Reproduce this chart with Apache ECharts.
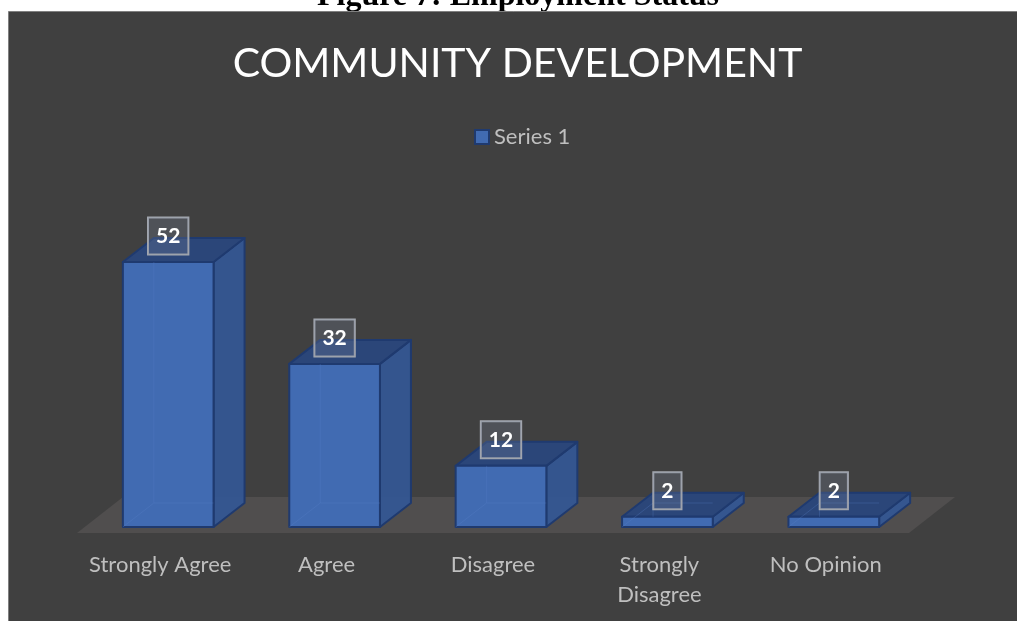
<!DOCTYPE html>
<html>
<head>
<meta charset="utf-8">
<style>html,body{margin:0;padding:0;background:#fff}#c{width:1017px;height:621px}</style>
<script src="https://cdn.jsdelivr.net/npm/echarts@6/dist/echarts.min.js"></script>
</head>
<body>
<div id="c"></div>
<script>
const categories = ['Strongly Agree', 'Agree', 'Disagree', 'Strongly\nDisagree', 'No Opinion'];
const values = [52, 32, 12, 2, 2];
const seriesName = 'Series 1';
const chartTitle = 'COMMUNITY DEVELOPMENT';
const caption = 'Figure 7: Employment Status';

const FONT = 'Lato, Carlito, sans-serif';
const DX = 31, DY = 24;         // bar depth projection
const FLOOR_DX = 46, FLOOR_DY = 36; // floor depth projection
const LIFT_X = 8, LIFT_Y = 6;   // bar footprint offset on floor
const BAR_RATIO = 0.545;

function poly(points, fill, stroke, lw) {
  return { type: 'polygon', shape: { points }, style: { fill, stroke, lineWidth: lw, lineJoin: 'round' } };
}
function edge(a, b) {
  return { type: 'line', shape: { x1: a[0], y1: a[1], x2: b[0], y2: b[1] }, style: { stroke: 'rgba(90,130,200,0.28)', lineWidth: 1 } };
}

function renderFloor(params) {
  if (params.dataIndex !== 0) return;
  const g = params.coordSys;
  const y0 = g.y + g.height;
  return poly([[g.x, y0], [g.x + g.width, y0], [g.x + g.width + FLOOR_DX, y0 - FLOOR_DY], [g.x + FLOOR_DX, y0 - FLOOR_DY]], '#504e4e');
}

function renderBar3D(params, api) {
  const cat = api.value(0), val = api.value(1);
  const base = api.coord([cat, 0]);
  const top = api.coord([cat, val]);
  const w = api.size([1, 0])[0] * BAR_RATIO;
  const l = base[0] + LIFT_X - w / 2, r = l + w;
  const b = base[1] - LIFT_Y, t = top[1] - LIFT_Y;
  const edgeC = '#1f3a6f';
  const children = [
    edge([l + DX, b - DY], [l + DX, t - DY]),
    poly([[r, t], [r + DX, t - DY], [r + DX, b - DY], [r, b]], 'rgba(52,86,146,0.96)', edgeC, 2),
    poly([[l, t], [r, t], [r + DX, t - DY], [l + DX, t - DY]], '#2b4679', edgeC, 2),
    poly([[l, t], [r, t], [r, b], [l, b]], '#416bb2', edgeC, 2),
    edge([l, b], [l + DX, b - DY]),
    edge([l + DX, b - DY], [r, b - DY]),
    edge([l + DX, t], [l + DX, b - DY]),
    {
      type: 'text', z2: 10,
      style: {
        text: String(val), x: l + w / 2, y: t - 26, align: 'center', verticalAlign: 'middle',
        fill: '#ffffff', font: 'bold 21px ' + FONT,
        backgroundColor: 'rgba(120,130,150,0.28)', borderColor: '#a4a8b0', borderWidth: 1,
        padding: [8, 8, 8, 8], boxShadowBlur: 14, boxShadowColor: 'rgba(0,0,0,0.35)', boxShadowOffsetX: 4
      }
    }
  ];
  return { type: 'group', children };
}

const chart = echarts.init(document.getElementById('c'), null, { renderer: 'canvas' });
chart.setOption({
  animation: false,
  backgroundColor: '#ffffff',
  title: {
    text: chartTitle, left: 512.5, top: 38.5, textAlign: 'center', z: 6,
    textStyle: { color: '#ffffff', fontFamily: FONT, fontWeight: 'normal', fontSize: 41 }
  },
  legend: {
    data: [{ name: seriesName, icon: 'rect' }],
    left: 469, top: 121, itemWidth: 14, itemHeight: 14, itemGap: 5, z: 6,
    textStyle: { color: '#bfbfbf', fontFamily: FONT, fontSize: 22 }
  },
  grid: { left: 77, width: 832, top: 227.2, height: 305.8, containLabel: false },
  xAxis: {
    type: 'category', data: categories, z: 5,
    axisLine: { show: false }, axisTick: { show: false },
    axisLabel: { color: '#bfbfbf', fontFamily: FONT, fontSize: 22, lineHeight: 30, margin: 17, interval: 0 }
  },
  yAxis: { type: 'value', min: 0, max: 60, show: false, splitLine: { show: false } },
  graphic: [
    { type: 'text', z: 0, style: { text: caption, x: 518, y: 13, align: 'center', verticalAlign: 'bottom', font: 'bold 32px "Liberation Serif", serif', fill: '#000' } },
    { type: 'rect', z: 1, shape: { x: 8.5, y: 11.5, width: 1020, height: 620 }, style: { fill: '#404040', stroke: '#808080', lineWidth: 1 } }
  ],
  series: [
    { type: 'custom', name: 'floor', z: 2, silent: true, renderItem: renderFloor, data: categories.map((c, i) => [i, 0]), encode: { x: 0, y: 1 } },
    { type: 'custom', name: seriesName, z: 3, renderItem: renderBar3D, itemStyle: { color: '#416bb2', borderColor: '#1f3a6f', borderWidth: 2 },
      data: values.map((v, i) => [i, v]), encode: { x: 0, y: 1 } }
  ]
});
</script>
</body>
</html>
